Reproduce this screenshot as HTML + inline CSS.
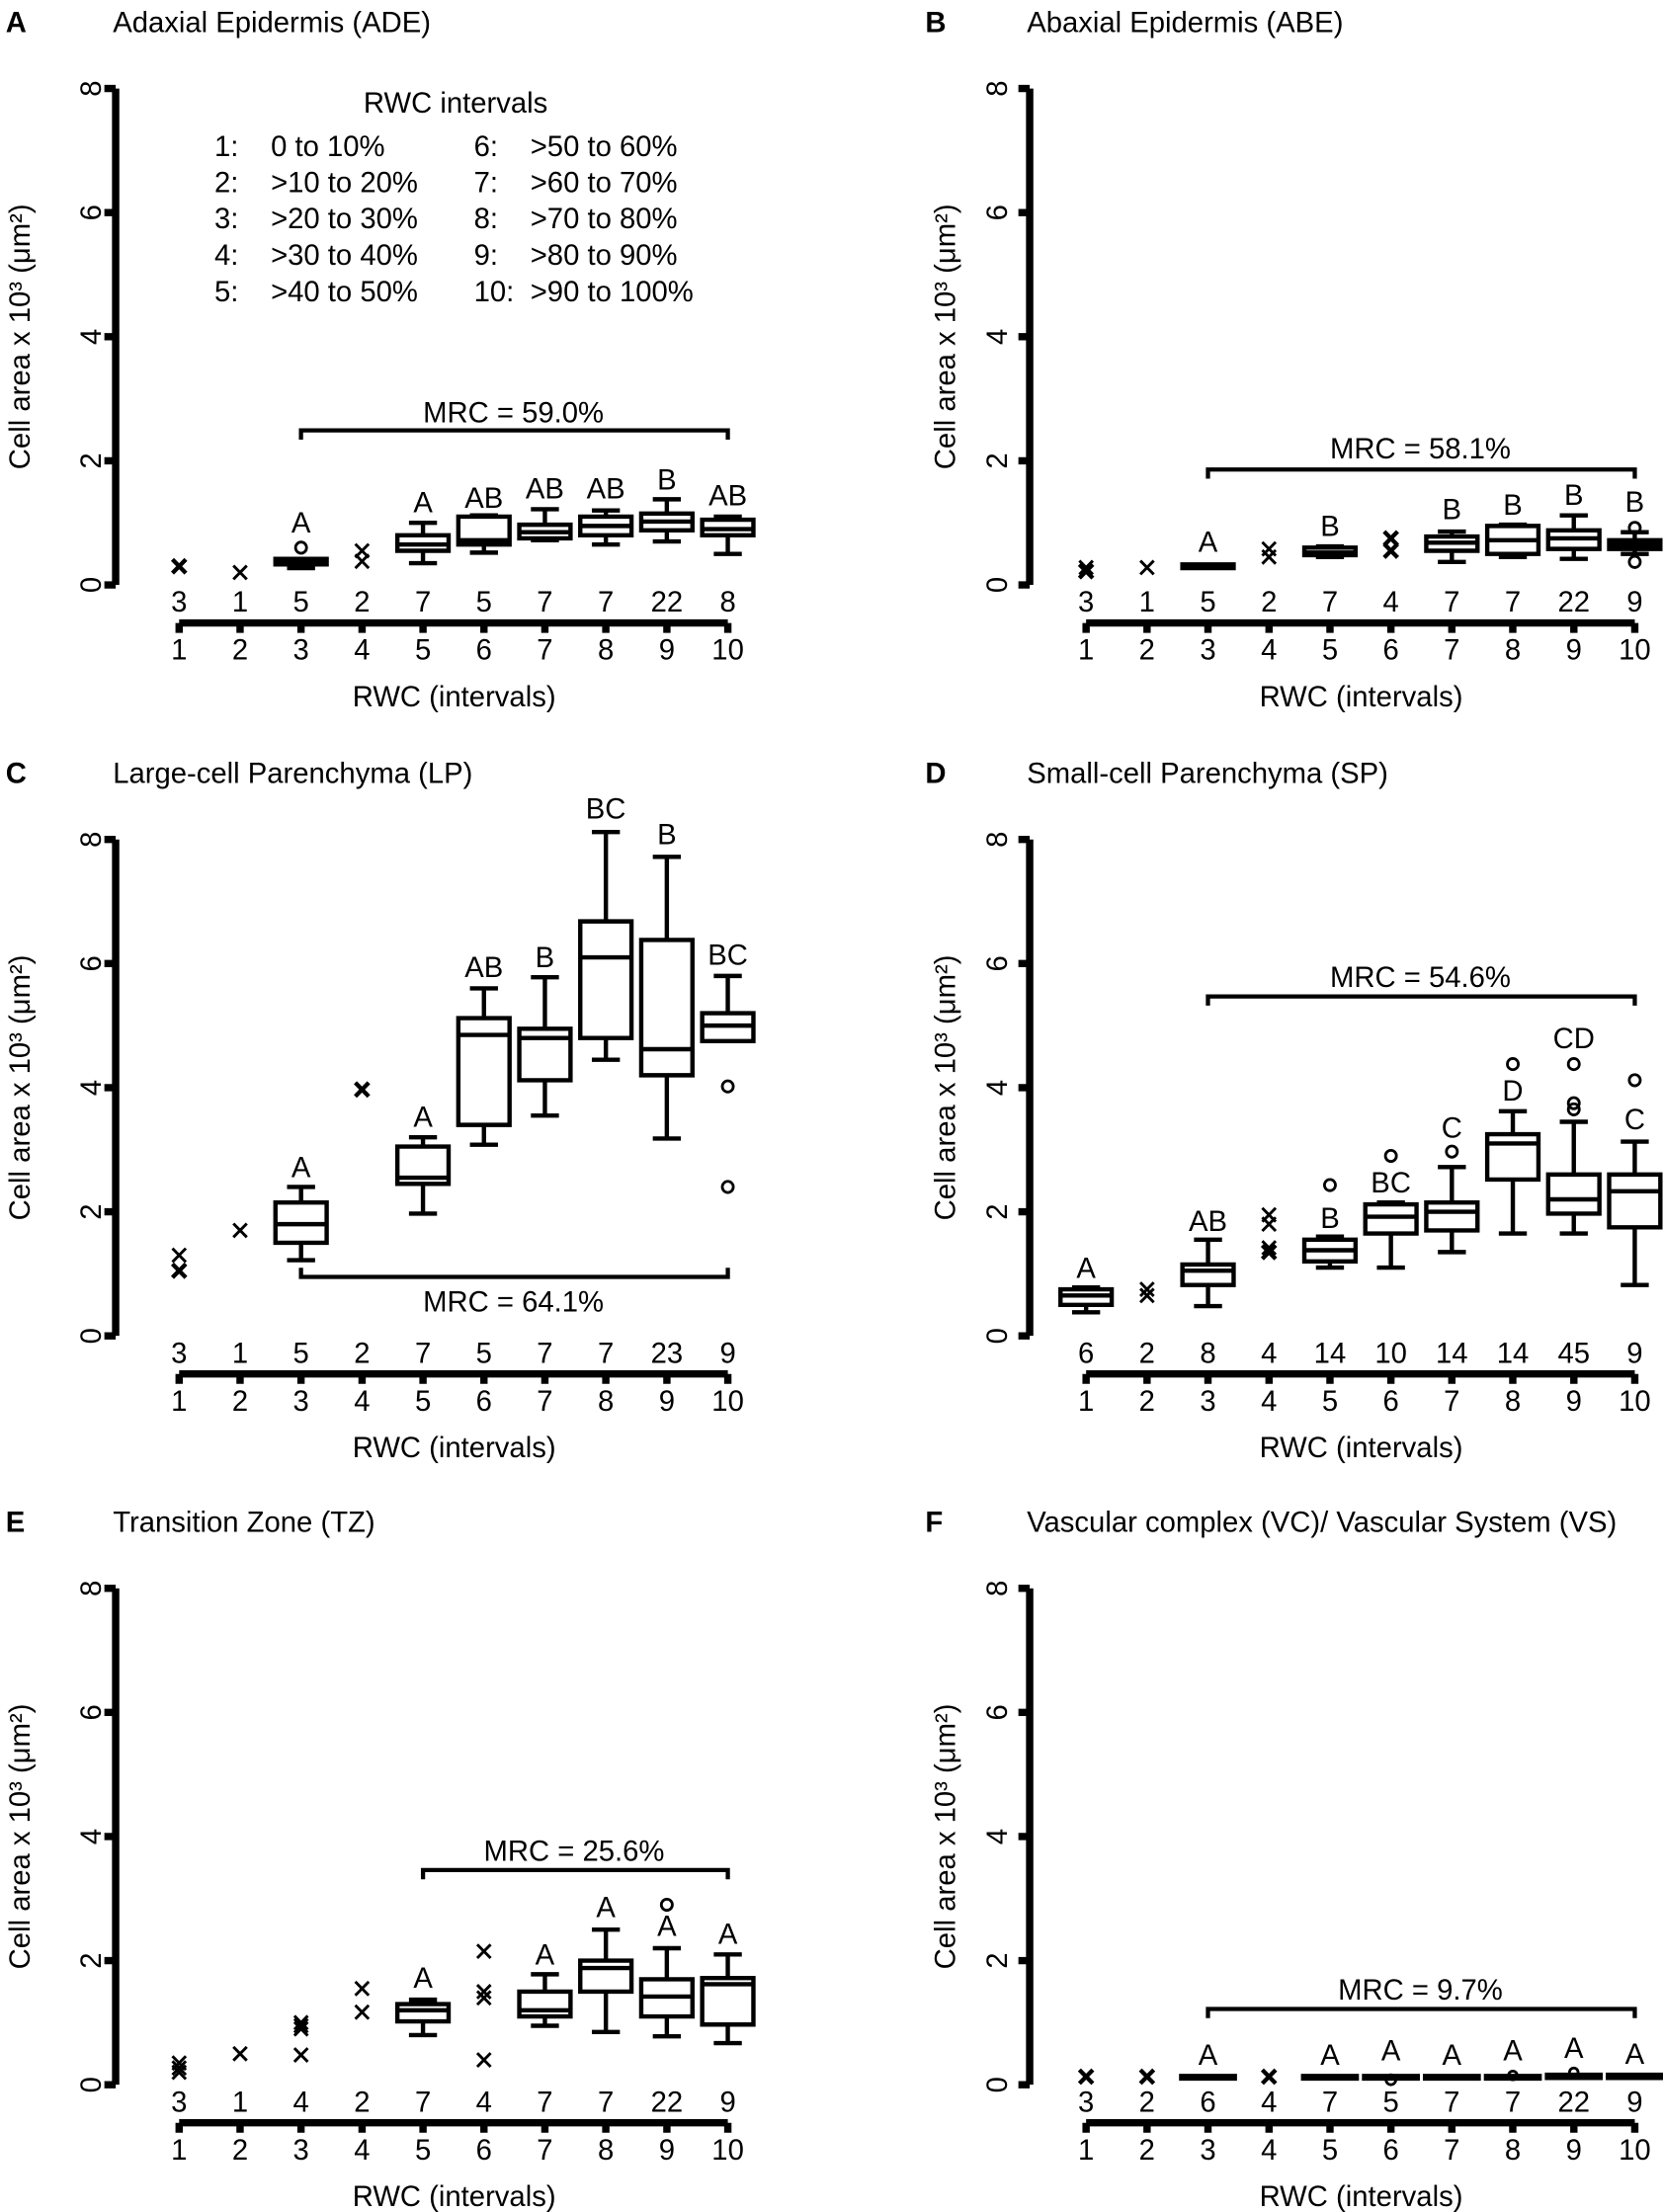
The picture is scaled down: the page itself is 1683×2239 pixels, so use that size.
<!DOCTYPE html>
<html><head><meta charset="utf-8"><style>
html,body{margin:0;padding:0;background:#fff}
svg{display:block}
text{font-family:"Liberation Sans",Arial,sans-serif;font-size:20.5px;fill:#000}
.d *{vector-effect:non-scaling-stroke}
.d path,.d circle{fill:none;stroke:#000}
.bx{stroke-width:4.4}
.xm{stroke:#000;fill:none;stroke-width:2.9}
.xt{stroke:#000;fill:none;stroke-width:4.3}
.ax{stroke:#000;stroke-width:5.2;fill:none}
.br{stroke:#000;stroke-width:3;fill:none}
.m text{text-anchor:middle}
</style></head><body>
<svg width="1683" height="2239" viewBox="0 0 1179 1567" xmlns="http://www.w3.org/2000/svg">
<defs>
<path id="x" d="M-.11 -.11L.11 .11M-.11 .11L.11 -.11" vector-effect="non-scaling-stroke"/>
<path id="xa" d="M127 441H516M127 441V448M170.2 441V448M213.4 441V448M256.7 441V448M299.9 441V448M343.1 441V448M386.3 441V448M429.5 441V448M472.8 441V448M516 441V448"/>
<g id="xl" class="m"><text x="127" y="467">1</text><text x="170.2" y="467">2</text><text x="213.4" y="467">3</text><text x="256.7" y="467">4</text><text x="299.9" y="467">5</text><text x="343.1" y="467">6</text><text x="386.3" y="467">7</text><text x="429.5" y="467">8</text><text x="472.8" y="467">9</text><text x="516" y="467">10</text><text x="322" y="500">RWC (intervals)</text></g>
</defs>

<!-- ===== Panel A ===== -->
<g>
<text x="4" y="22" font-weight="bold">A</text>
<text x="80" y="22">Adaxial Epidermis (ADE)</text>
<path class="ax" d="M82 62V414M74 62H82M74 150H82M74 238H82M74 326H82M74 414H82"/>
<g class="m"><text transform="translate(71.5,414) rotate(-90)">0</text><text transform="translate(71.5,326) rotate(-90)">2</text><text transform="translate(71.5,238) rotate(-90)">4</text><text transform="translate(71.5,150) rotate(-90)">6</text><text transform="translate(71.5,62) rotate(-90)">8</text><text transform="translate(21,238) rotate(-90)">Cell area x 10³ (μm²)</text></g>
<use href="#xa" class="ax"/><use href="#xl"/>
<g class="m"><text x="127" y="433">3</text><text x="170.2" y="433">1</text><text x="213.4" y="433">5</text><text x="256.7" y="433">2</text><text x="299.9" y="433">7</text><text x="343.1" y="433">5</text><text x="386.3" y="433">7</text><text x="429.5" y="433">7</text><text x="472.8" y="433">22</text><text x="516" y="433">8</text></g>
<text x="323" y="79" text-anchor="middle">RWC intervals</text>
<text x="152" y="110">1:</text><text x="192" y="110">0 to 10%</text>
<text x="152" y="135.5">2:</text><text x="192" y="135.5">&gt;10 to 20%</text>
<text x="152" y="161">3:</text><text x="192" y="161">&gt;20 to 30%</text>
<text x="152" y="187">4:</text><text x="192" y="187">&gt;30 to 40%</text>
<text x="152" y="213">5:</text><text x="192" y="213">&gt;40 to 50%</text>
<text x="336" y="110">6:</text><text x="376" y="110">&gt;50 to 60%</text>
<text x="336" y="135.5">7:</text><text x="376" y="135.5">&gt;60 to 70%</text>
<text x="336" y="161">8:</text><text x="376" y="161">&gt;70 to 80%</text>
<text x="336" y="187">9:</text><text x="376" y="187">&gt;80 to 90%</text>
<text x="336" y="213">10:</text><text x="376" y="213">&gt;90 to 100%</text>
<path class="br" d="M213.4 311V304.4H516V311"/>
<text x="364" y="298.7" text-anchor="middle">MRC = 59.0%</text>
<g class="m"><text x="213.4" y="377">A</text><text x="299.9" y="362.5">A</text><text x="343.1" y="359.4">AB</text><text x="386.3" y="352.8">AB</text><text x="429.5" y="352.8">AB</text><text x="472.8" y="346.2">B</text><text x="516" y="357.6">AB</text></g>
<g class="d" transform="translate(127,414) scale(43.22,-44)">
<use href="#x" class="xt" transform="translate(0,.3)"/>
<use href="#x" class="xm" transform="translate(1,.2)"/>
<use href="#x" class="xm" transform="translate(3,.38)"/><use href="#x" class="xm" transform="translate(3,.55)"/>
<g class="bx" transform="translate(2,0)"><path d="M-.42 .33H.42V.42H-.42ZM-.42 .38H.42M0 .27V.33M-.23 .27H.23"/><circle cx="0" cy=".6" r=".09" stroke-width="2.8"/></g>
<g class="bx" transform="translate(4,0)"><path d="M-.42 .55H.42V.8H-.42ZM-.42 .65H.42M0 .35V.55M0 .8V1M-.23 .35H.23M-.23 1H.23"/></g>
<g class="bx" transform="translate(5,0)"><path d="M-.42 .65H.42V1.1H-.42ZM-.42 .72H.42M0 .52V.65M-.23 .52H.23M-.23 1.12H.23"/></g>
<g class="bx" transform="translate(6,0)"><path d="M-.42 .75H.42V.97H-.42ZM-.42 .85H.42M0 .72V.75M0 .97V1.22M-.23 .72H.23M-.23 1.22H.23"/></g>
<g class="bx" transform="translate(7,0)"><path d="M-.42 .8H.42V1.1H-.42ZM-.42 .95H.42M0 .65V.8M0 1.1V1.2M-.23 .65H.23M-.23 1.2H.23"/></g>
<g class="bx" transform="translate(8,0)"><path d="M-.42 .88H.42V1.15H-.42ZM-.42 1.02H.42M0 .7V.88M0 1.15V1.38M-.23 .7H.23M-.23 1.38H.23"/></g>
<g class="bx" transform="translate(9,0)"><path d="M-.42 .8H.42V1.05H-.42ZM-.42 .9H.42M0 .5V.8M0 1.05V1.1M-.23 .5H.23M-.23 1.1H.23"/></g>
</g>
</g>

<!-- ===== Panel B ===== -->
<g transform="translate(643,0)">
<text x="13" y="22" font-weight="bold">B</text>
<text x="85" y="22">Abaxial Epidermis (ABE)</text>
<path class="ax" d="M87 62V414M79 62H87M79 150H87M79 238H87M79 326H87M79 414H87"/>
<g class="m"><text transform="translate(71,414) rotate(-90)">0</text><text transform="translate(71,326) rotate(-90)">2</text><text transform="translate(71,238) rotate(-90)">4</text><text transform="translate(71,150) rotate(-90)">6</text><text transform="translate(71,62) rotate(-90)">8</text><text transform="translate(34,238) rotate(-90)">Cell area x 10³ (μm²)</text></g>
<use href="#xa" class="ax"/><use href="#xl"/>
<g class="m"><text x="127" y="433">3</text><text x="170.2" y="433">1</text><text x="213.4" y="433">5</text><text x="256.7" y="433">2</text><text x="299.9" y="433">7</text><text x="343.1" y="433">4</text><text x="386.3" y="433">7</text><text x="429.5" y="433">7</text><text x="472.8" y="433">22</text><text x="516" y="433">9</text></g>
<path class="br" d="M213.4 338.7V332.2H516V338.7"/>
<text x="364" y="324.2" text-anchor="middle">MRC = 58.1%</text>
<g class="m"><text x="213.4" y="390.6">A</text><text x="299.9" y="379.2">B</text><text x="386.3" y="367.3">B</text><text x="429.5" y="364.2">B</text><text x="472.8" y="357.2">B</text><text x="516" y="362">B</text></g>
<g class="d" transform="translate(127,414) scale(43.22,-44)">
<use href="#x" class="xt" transform="translate(0,.22)"/><use href="#x" class="xm" transform="translate(0,.28)"/>
<use href="#x" class="xm" transform="translate(1,.28)"/>
<use href="#x" class="xm" transform="translate(3,.45)"/><use href="#x" class="xm" transform="translate(3,.58)"/>
<use href="#x" class="xt" transform="translate(5,.55)"/><use href="#x" class="xt" transform="translate(5,.75)"/>
<g class="bx" transform="translate(2,0)"><path d="M-.42 .27H.42V.33H-.42ZM-.42 .3H.42"/></g>
<g class="bx" transform="translate(4,0)"><path d="M-.42 .48H.42V.6H-.42ZM-.42 .52H.42M-.23 .45H.23M-.23 .62H.23"/></g>
<g class="bx" transform="translate(6,0)"><path d="M-.42 .55H.42V.78H-.42ZM-.42 .68H.42M0 .37V.55M0 .78V.86M-.23 .37H.23M-.23 .86H.23"/></g>
<g class="bx" transform="translate(7,0)"><path d="M-.42 .5H.42V.95H-.42ZM-.42 .72H.42M0 .45V.5M-.23 .45H.23M-.23 .97H.23"/></g>
<g class="bx" transform="translate(8,0)"><path d="M-.42 .58H.42V.88H-.42ZM-.42 .75H.42M0 .42V.58M0 .88V1.12M-.23 .42H.23M-.23 1.12H.23"/></g>
<g class="bx" transform="translate(9,0)"><path d="M-.42 .58H.42V.72H-.42ZM-.42 .65H.42M0 .5V.58M0 .72V.85M-.23 .5H.23M-.23 .85H.23"/><circle cx="0" cy=".37" r=".09" stroke-width="2.8"/><circle cx="0" cy=".92" r=".09" stroke-width="2.8"/></g>
</g>
</g>

<!-- ===== Panel C ===== -->
<g transform="translate(0,532.5)">
<text x="4" y="22" font-weight="bold">C</text>
<text x="80" y="22">Large-cell Parenchyma (LP)</text>
<path class="ax" d="M82 62V414M74 62H82M74 150H82M74 238H82M74 326H82M74 414H82"/>
<g class="m"><text transform="translate(71.5,414) rotate(-90)">0</text><text transform="translate(71.5,326) rotate(-90)">2</text><text transform="translate(71.5,238) rotate(-90)">4</text><text transform="translate(71.5,150) rotate(-90)">6</text><text transform="translate(71.5,62) rotate(-90)">8</text><text transform="translate(21,238) rotate(-90)">Cell area x 10³ (μm²)</text></g>
<use href="#xa" class="ax"/><use href="#xl"/>
<g class="m"><text x="127" y="433">3</text><text x="170.2" y="433">1</text><text x="213.4" y="433">5</text><text x="256.7" y="433">2</text><text x="299.9" y="433">7</text><text x="343.1" y="433">5</text><text x="386.3" y="433">7</text><text x="429.5" y="433">7</text><text x="472.8" y="433">23</text><text x="516" y="433">9</text></g>
<path class="br" d="M213.4 365.7V372.2H516V365.7"/>
<text x="364" y="396.8" text-anchor="middle">MRC = 64.1%</text>
<g class="m"><text x="213.4" y="301.3">A</text><text x="299.9" y="265.7">A</text><text x="343.1" y="159.6">AB</text><text x="386.3" y="152.6">B</text><text x="429.5" y="47">BC</text><text x="472.8" y="65.5">B</text><text x="516" y="150.8">BC</text></g>
<g class="d" transform="translate(127,414) scale(43.22,-44)">
<use href="#x" class="xt" transform="translate(0,1.05)"/><use href="#x" class="xm" transform="translate(0,1.3)"/>
<use href="#x" class="xm" transform="translate(1,1.7)"/>
<use href="#x" class="xt" transform="translate(3,3.97)"/>
<g class="bx" transform="translate(2,0)"><path d="M-.42 1.5H.42V2.15H-.42ZM-.42 1.8H.42M0 1.22V1.5M0 2.15V2.4M-.23 1.22H.23M-.23 2.4H.23"/></g>
<g class="bx" transform="translate(4,0)"><path d="M-.42 2.45H.42V3.05H-.42ZM-.42 2.55H.42M0 1.97V2.45M0 3.05V3.2M-.23 1.97H.23M-.23 3.2H.23"/></g>
<g class="bx" transform="translate(5,0)"><path d="M-.42 3.4H.42V5.12H-.42ZM-.42 4.85H.42M0 3.08V3.4M0 5.12V5.6M-.23 3.08H.23M-.23 5.6H.23"/></g>
<g class="bx" transform="translate(6,0)"><path d="M-.42 4.12H.42V4.95H-.42ZM-.42 4.8H.42M0 3.55V4.12M0 4.95V5.78M-.23 3.55H.23M-.23 5.78H.23"/></g>
<g class="bx" transform="translate(7,0)"><path d="M-.42 4.8H.42V6.68H-.42ZM-.42 6.1H.42M0 4.45V4.8M0 6.68V8.12M-.23 4.45H.23M-.23 8.12H.23"/></g>
<g class="bx" transform="translate(8,0)"><path d="M-.42 4.2H.42V6.38H-.42ZM-.42 4.62H.42M0 3.18V4.2M0 6.38V7.72M-.23 3.18H.23M-.23 7.72H.23"/></g>
<g class="bx" transform="translate(9,0)"><path d="M-.42 4.75H.42V5.2H-.42ZM-.42 5H.42M0 5.2V5.8M-.23 5.8H.23"/><circle cx="0" cy="4.02" r=".09" stroke-width="2.8"/><circle cx="0" cy="2.4" r=".09" stroke-width="2.8"/></g>
</g>
</g>

<!-- ===== Panel D ===== -->
<g transform="translate(643,532.5)">
<text x="13" y="22" font-weight="bold">D</text>
<text x="85" y="22">Small-cell Parenchyma (SP)</text>
<path class="ax" d="M87 62V414M79 62H87M79 150H87M79 238H87M79 326H87M79 414H87"/>
<g class="m"><text transform="translate(71,414) rotate(-90)">0</text><text transform="translate(71,326) rotate(-90)">2</text><text transform="translate(71,238) rotate(-90)">4</text><text transform="translate(71,150) rotate(-90)">6</text><text transform="translate(71,62) rotate(-90)">8</text><text transform="translate(34,238) rotate(-90)">Cell area x 10³ (μm²)</text></g>
<use href="#xa" class="ax"/><use href="#xl"/>
<g class="m"><text x="127" y="433">6</text><text x="170.2" y="433">2</text><text x="213.4" y="433">8</text><text x="256.7" y="433">4</text><text x="299.9" y="433">14</text><text x="343.1" y="433">10</text><text x="386.3" y="433">14</text><text x="429.5" y="433">14</text><text x="472.8" y="433">45</text><text x="516" y="433">9</text></g>
<path class="br" d="M213.4 179.8V173.3H516V179.8"/>
<text x="364" y="166.7" text-anchor="middle">MRC = 54.6%</text>
<g class="m"><text x="127" y="373">A</text><text x="213.4" y="339.6">AB</text><text x="299.9" y="337.4">B</text><text x="343.1" y="312.3">BC</text><text x="386.3" y="273.6">C</text><text x="429.5" y="247.2">D</text><text x="472.8" y="210.2">CD</text><text x="516" y="267.4">C</text></g>
<g class="d" transform="translate(127,414) scale(43.22,-44)">
<use href="#x" class="xm" transform="translate(1,.65)"/><use href="#x" class="xm" transform="translate(1,.75)"/>
<use href="#x" class="xt" transform="translate(3,1.35)"/><use href="#x" class="xm" transform="translate(3,1.42)"/><use href="#x" class="xm" transform="translate(3,1.8)"/><use href="#x" class="xm" transform="translate(3,1.95)"/>
<g class="bx" transform="translate(0,0)"><path d="M-.42 .5H.42V.75H-.42ZM-.42 .65H.42M0 .38V.5M-.23 .38H.23M-.23 .78H.23"/></g>
<g class="bx" transform="translate(2,0)"><path d="M-.42 .82H.42V1.15H-.42ZM-.42 1.05H.42M0 .48V.82M0 1.15V1.55M-.23 .48H.23M-.23 1.55H.23"/></g>
<g class="bx" transform="translate(4,0)"><path d="M-.42 1.2H.42V1.55H-.42ZM-.42 1.38H.42M0 1.1V1.2M-.23 1.1H.23M-.23 1.6H.23"/><circle cx="0" cy="2.43" r=".09" stroke-width="2.8"/></g>
<g class="bx" transform="translate(5,0)"><path d="M-.42 1.65H.42V2.12H-.42ZM-.42 1.92H.42M0 1.1V1.65M-.23 1.1H.23M-.23 2.15H.23"/><circle cx="0" cy="2.9" r=".09" stroke-width="2.8"/></g>
<g class="bx" transform="translate(6,0)"><path d="M-.42 1.7H.42V2.15H-.42ZM-.42 2H.42M0 1.35V1.7M0 2.15V2.72M-.23 1.35H.23M-.23 2.72H.23"/><circle cx="0" cy="2.97" r=".09" stroke-width="2.8"/></g>
<g class="bx" transform="translate(7,0)"><path d="M-.42 2.52H.42V3.25H-.42ZM-.42 3.1H.42M0 1.65V2.52M0 3.25V3.62M-.23 1.65H.23M-.23 3.62H.23"/><circle cx="0" cy="4.38" r=".09" stroke-width="2.8"/></g>
<g class="bx" transform="translate(8,0)"><path d="M-.42 1.97H.42V2.6H-.42ZM-.42 2.2H.42M0 1.65V1.97M0 2.6V3.45M-.23 1.65H.23M-.23 3.45H.23"/><circle cx="0" cy="3.65" r=".09" stroke-width="2.8"/><circle cx="0" cy="3.75" r=".09" stroke-width="2.8"/><circle cx="0" cy="4.38" r=".09" stroke-width="2.8"/></g>
<g class="bx" transform="translate(9,0)"><path d="M-.42 1.75H.42V2.6H-.42ZM-.42 2.33H.42M0 .82V1.75M0 2.6V3.13M-.23 .82H.23M-.23 3.13H.23"/><circle cx="0" cy="4.12" r=".09" stroke-width="2.8"/></g>
</g>
</g>

<!-- ===== Panel E ===== -->
<g transform="translate(0,1063.5)">
<text x="4" y="22" font-weight="bold">E</text>
<text x="80" y="22">Transition Zone (TZ)</text>
<path class="ax" d="M82 62V414M74 62H82M74 150H82M74 238H82M74 326H82M74 414H82"/>
<g class="m"><text transform="translate(71.5,414) rotate(-90)">0</text><text transform="translate(71.5,326) rotate(-90)">2</text><text transform="translate(71.5,238) rotate(-90)">4</text><text transform="translate(71.5,150) rotate(-90)">6</text><text transform="translate(71.5,62) rotate(-90)">8</text><text transform="translate(21,238) rotate(-90)">Cell area x 10³ (μm²)</text></g>
<use href="#xa" class="ax"/><use href="#xl"/>
<g class="m"><text x="127" y="433">3</text><text x="170.2" y="433">1</text><text x="213.4" y="433">4</text><text x="256.7" y="433">2</text><text x="299.9" y="433">7</text><text x="343.1" y="433">4</text><text x="386.3" y="433">7</text><text x="429.5" y="433">7</text><text x="472.8" y="433">22</text><text x="516" y="433">9</text></g>
<path class="br" d="M299.9 268.3V261.8H516V268.3"/>
<text x="407" y="255.1" text-anchor="middle">MRC = 25.6%</text>
<g class="m"><text x="299.9" y="345.3">A</text><text x="386.3" y="328.6">A</text><text x="429.5" y="295.2">A</text><text x="472.8" y="308.4">A</text><text x="516" y="314.1">A</text></g>
<g class="d" transform="translate(127,414) scale(43.22,-44)">
<use href="#x" class="xm" transform="translate(0,.2)"/><use href="#x" class="xm" transform="translate(0,.27)"/><use href="#x" class="xm" transform="translate(0,.35)"/>
<use href="#x" class="xm" transform="translate(1,.5)"/>
<use href="#x" class="xm" transform="translate(2,.48)"/><use href="#x" class="xm" transform="translate(2,.9)"/><use href="#x" class="xm" transform="translate(2,.95)"/><use href="#x" class="xm" transform="translate(2,1)"/>
<use href="#x" class="xm" transform="translate(3,1.17)"/><use href="#x" class="xm" transform="translate(3,1.55)"/>
<use href="#x" class="xm" transform="translate(5,.4)"/><use href="#x" class="xm" transform="translate(5,1.4)"/><use href="#x" class="xm" transform="translate(5,1.5)"/><use href="#x" class="xm" transform="translate(5,2.15)"/>
<g class="bx" transform="translate(4,0)"><path d="M-.42 1.02H.42V1.3H-.42ZM-.42 1.2H.42M0 .8V1.02M0 1.3V1.37M-.23 .8H.23M-.23 1.37H.23"/></g>
<g class="bx" transform="translate(6,0)"><path d="M-.42 1.1H.42V1.5H-.42ZM-.42 1.2H.42M0 .95V1.1M0 1.5V1.78M-.23 .95H.23M-.23 1.78H.23"/></g>
<g class="bx" transform="translate(7,0)"><path d="M-.42 1.5H.42V2H-.42ZM-.42 1.88H.42M0 .85V1.5M0 2V2.5M-.23 .85H.23M-.23 2.5H.23"/></g>
<g class="bx" transform="translate(8,0)"><path d="M-.42 1.1H.42V1.7H-.42ZM-.42 1.42H.42M0 .78V1.1M0 1.7V2.2M-.23 .78H.23M-.23 2.2H.23"/><circle cx="0" cy="2.9" r=".09" stroke-width="2.8"/></g>
<g class="bx" transform="translate(9,0)"><path d="M-.42 .97H.42V1.72H-.42ZM-.42 1.62H.42M0 .67V.97M0 1.72V2.1M-.23 .67H.23M-.23 2.1H.23"/></g>
</g>
</g>

<!-- ===== Panel F ===== -->
<g transform="translate(643,1063.5)">
<text x="13" y="22" font-weight="bold">F</text>
<text x="85" y="22">Vascular complex (VC)/ Vascular System (VS)</text>
<path class="ax" d="M87 62V414M79 62H87M79 150H87M79 238H87M79 326H87M79 414H87"/>
<g class="m"><text transform="translate(71,414) rotate(-90)">0</text><text transform="translate(71,326) rotate(-90)">2</text><text transform="translate(71,238) rotate(-90)">4</text><text transform="translate(71,150) rotate(-90)">6</text><text transform="translate(71,62) rotate(-90)">8</text><text transform="translate(34,238) rotate(-90)">Cell area x 10³ (μm²)</text></g>
<use href="#xa" class="ax"/><use href="#xl"/>
<g class="m"><text x="127" y="433">3</text><text x="170.2" y="433">2</text><text x="213.4" y="433">6</text><text x="256.7" y="433">4</text><text x="299.9" y="433">7</text><text x="343.1" y="433">5</text><text x="386.3" y="433">7</text><text x="429.5" y="433">7</text><text x="472.8" y="433">22</text><text x="516" y="433">9</text></g>
<path class="br" d="M213.4 366.8V360.3H516V366.8"/>
<text x="364" y="353.7" text-anchor="middle">MRC = 9.7%</text>
<g class="m"><text x="213.4" y="400">A</text><text x="299.9" y="400">A</text><text x="343.1" y="396.8">A</text><text x="386.3" y="400">A</text><text x="429.5" y="396.8">A</text><text x="472.8" y="395">A</text><text x="516" y="399">A</text></g>
<g class="d" transform="translate(127,414) scale(43.22,-44)">
<use href="#x" class="xt" transform="translate(0,.13)"/>
<use href="#x" class="xt" transform="translate(1,.13)"/>
<use href="#x" class="xt" transform="translate(3,.13)"/>
<g class="bx" transform="translate(2,0)"><path d="M-.44 .1H.44V.14H-.44Z"/></g>
<g class="bx" transform="translate(4,0)"><path d="M-.44 .1H.44V.14H-.44Z"/></g>
<g class="bx" transform="translate(5,0)"><path d="M-.44 .1H.44V.14H-.44Z"/><circle cx="0" cy=".08" r=".08" stroke-width="2.8"/></g>
<g class="bx" transform="translate(6,0)"><path d="M-.44 .1H.44V.14H-.44Z"/></g>
<g class="bx" transform="translate(7,0)"><path d="M-.44 .1H.44V.14H-.44Z"/><circle cx="0" cy=".15" r=".07" stroke-width="2.8"/></g>
<g class="bx" transform="translate(8,0)"><path d="M-.44 .11H.44V.16H-.44Z"/><circle cx="0" cy=".2" r=".07" stroke-width="2.8"/></g>
<g class="bx" transform="translate(9,0)"><path d="M-.44 .11H.44V.16H-.44Z"/></g>
</g>
</g>
</svg>
</body></html>
